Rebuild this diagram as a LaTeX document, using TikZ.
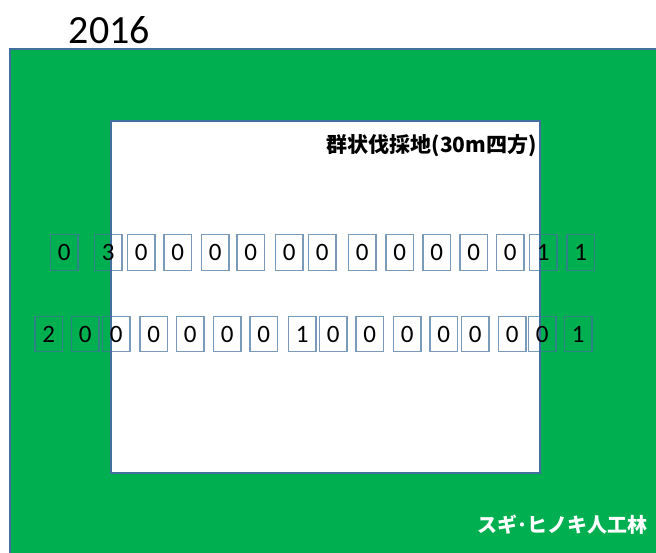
\documentclass[tikz,border=0pt]{standalone}
\usepackage{fontspec}
\setmainfont{Carlito}
\newfontfamily\jpfont{Noto Sans CJK JP}
\definecolor{offgreen}{HTML}{00B050}
\definecolor{offblue}{HTML}{41719C}
\definecolor{boxblue}{HTML}{41719C}
\begin{document}
\begin{tikzpicture}[x=1pt,y=-1pt,
  cell/.style={draw=boxblue,draw opacity=0.7,line width=1.3pt,rectangle,minimum width=27.5pt,minimum height=35.5pt,inner sep=0pt,font=\fontsize{25}{25}\selectfont},
  area/.style={draw=offblue,line width=1.6pt}]
\useasboundingbox (0,0) rectangle (656,553);
\path[area,fill=offgreen] (10,49) rectangle (670,570);
\path[area,fill=white] (111,121) rectangle (540,473);
\node[font=\fontsize{40}{40}\selectfont] (year) at (109.5,30) {2016};
\node[font=\jpfont\bfseries\fontsize{21}{21}\selectfont,anchor=east,inner sep=0pt] (gap) at (537,146) {群状伐採地(30m四方)};
\node[font=\jpfont\bfseries\fontsize{20}{20}\selectfont,text=white,anchor=west,inner sep=0pt] (plant) at (477,525) {スギ･ヒノキ人工林};
% row 1
\foreach \x/\t [count=\i] in {50.5/0,94.5/3,127.5/0,164/0,201.5/0,237/0,275.5/0,308.5/0,348.5/0,386/0,423/0,460/0,496.5/0,529.5/1,567/1}
  \node[cell] (a\i) at (\x+13.75,252.5) {\t};
% row 2
\foreach \x/\t [count=\i] in {35/2,71.5/0,102.5/0,140/0,176.5/0,213.5/0,250/0,288.5/1,319.5/0,356/0,393.5/0,430/0,461.5/0,498.5/0,528.5/0,564.5/1}
  \node[cell] (b\i) at (\x+13.75,334) {\t};
\end{tikzpicture}
\end{document}
